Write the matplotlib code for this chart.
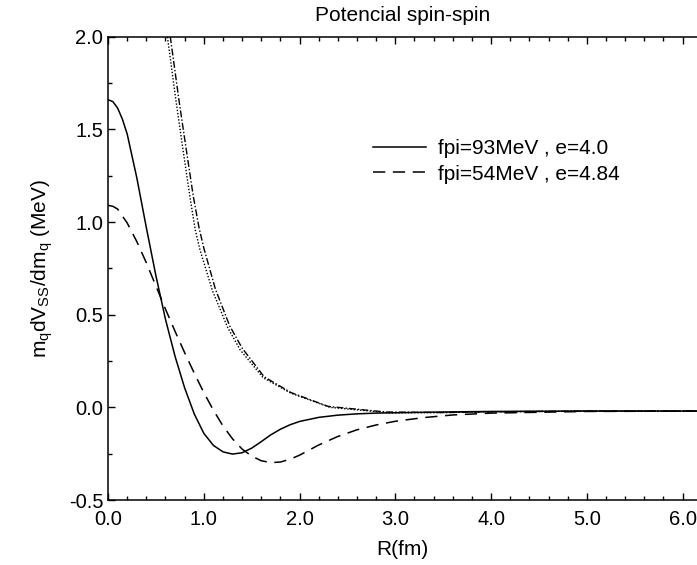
"""Potencial spin-spin: m_q dV_SS/dm_q vs R for two parameter sets."""

import matplotlib.pyplot as plt
from matplotlib.ticker import MultipleLocator, FormatStrFormatter

# solid: fpi=93MeV, e=4.0
r_93 = [0.0, 0.05, 0.1, 0.15, 0.2, 0.3, 0.4, 0.5, 0.6, 0.7, 0.8, 0.9, 1.0, 1.1,
        1.2, 1.3, 1.4, 1.5, 1.6, 1.7, 1.8, 1.9, 2.0, 2.2, 2.4, 2.6, 2.8, 3.0, 3.5,
        4.0, 5.0, 6.2]
v_93 = [1.66, 1.65, 1.615, 1.555, 1.475, 1.24, 0.97, 0.71, 0.475, 0.275, 0.105,
        -0.035, -0.14, -0.205, -0.24, -0.252, -0.245, -0.22, -0.185, -0.148, -0.118,
        -0.094, -0.076, -0.054, -0.042, -0.035, -0.031, -0.029, -0.025, -0.022,
        -0.02, -0.02]

# dashed: fpi=54MeV, e=4.84
r_54 = [0.0, 0.05, 0.1, 0.2, 0.3, 0.4, 0.5, 0.6, 0.7, 0.8, 0.9, 1.0, 1.1, 1.2,
        1.3, 1.4, 1.5, 1.6, 1.7, 1.8, 1.9, 2.0, 2.2, 2.4, 2.6, 2.8, 3.0, 3.3, 3.6,
        4.0, 5.0, 6.2]
v_54 = [1.09, 1.085, 1.07, 0.995, 0.895, 0.78, 0.655, 0.53, 0.41, 0.295, 0.185,
        0.08, -0.015, -0.1, -0.17, -0.225, -0.263, -0.288, -0.298, -0.295, -0.28,
        -0.258, -0.203, -0.157, -0.121, -0.095, -0.075, -0.055, -0.041, -0.031,
        -0.022, -0.02]

# unlabelled steep curves (dotted and dash-dot)
r_dot = [0.55, 0.62, 0.70, 0.78, 0.86, 0.91, 0.96, 1.09, 1.25, 1.38, 1.62, 1.91,
         2.32, 2.95, 3.5, 4.0, 5.0, 6.2]
v_dot = [2.25, 2.0, 1.69, 1.40, 1.12, 0.96, 0.85, 0.63, 0.43, 0.31, 0.16, 0.076,
         0.0, -0.03, -0.028, -0.024, -0.02, -0.02]
r_dd = [0.59, 0.65, 0.74, 0.82, 0.89, 0.95, 1.0, 1.12, 1.27, 1.40, 1.63, 1.91,
        2.30, 2.90, 3.5, 4.0, 5.0, 6.2]
v_dd = [2.25, 2.0, 1.66, 1.38, 1.14, 0.97, 0.86, 0.64, 0.44, 0.32, 0.165, 0.08,
        0.005, -0.025, -0.028, -0.024, -0.02, -0.02]

LABEL_93 = "fpi=93MeV , e=4.0"
LABEL_54 = "fpi=54MeV , e=4.84"

plt.rcParams.update({
    "font.family": ["Liberation Sans", "DejaVu Sans"],
    "font.size": 15,
    "axes.linewidth": 1.1,
    "mathtext.fontset": "custom",
    "mathtext.rm": "Liberation Sans",
    "mathtext.it": "Liberation Sans",
})

fig = plt.figure(figsize=(6.97, 5.65), dpi=100)
# the scanned original is cropped on the right, so the frame runs to the edge
ax = fig.add_axes([0.155, 0.115, 0.845, 0.82])
ax.spines["right"].set_visible(False)

ax.plot(r_93, v_93, color="black", lw=1.1, ls="-", label=LABEL_93)
ax.plot(r_54, v_54, color="black", lw=1.1, ls=(0, (8, 5)), label=LABEL_54)
ax.plot(r_dot, v_dot, color="black", lw=1.0, ls=(0, (1, 1.3)))
ax.plot(r_dd, v_dd, color="black", lw=1.0, ls=(0, (5, 1.5, 1, 1.5)))

ax.set_xlim(0.0, 6.15)
ax.set_ylim(-0.5, 2.0)
ax.set_xticks([0.0, 1.0, 2.0, 3.0, 4.0, 5.0, 6.0])
ax.xaxis.set_minor_locator(MultipleLocator(0.2))
ax.yaxis.set_major_locator(MultipleLocator(0.5))
ax.yaxis.set_minor_locator(MultipleLocator(0.25))
ax.xaxis.set_major_formatter(FormatStrFormatter("%.1f"))
ax.yaxis.set_major_formatter(FormatStrFormatter("%.1f"))
ax.tick_params(which="both", direction="in", top=True, right=False, width=1.0,
               labelsize=14.5)
ax.tick_params(which="major", length=5)
ax.tick_params(which="minor", length=3)
ax.tick_params(axis="x", which="major", pad=7)
ax.tick_params(axis="y", which="major", pad=3.5)

ax.set_title("Potencial spin-spin", fontsize=15, pad=11)
ax.set_xlabel("R(fm)", labelpad=8)
ax.set_ylabel(r"m$_\mathrm{q}$dV$_\mathrm{SS}$/dm$_\mathrm{q}$ (MeV)", labelpad=10)

ax.legend(loc="upper left", bbox_to_anchor=(0.433, 0.801), frameon=False,
          borderpad=0.0, handlelength=2.5, handletextpad=0.6, labelspacing=0.3)

fig.savefig("out.png", dpi=100)
